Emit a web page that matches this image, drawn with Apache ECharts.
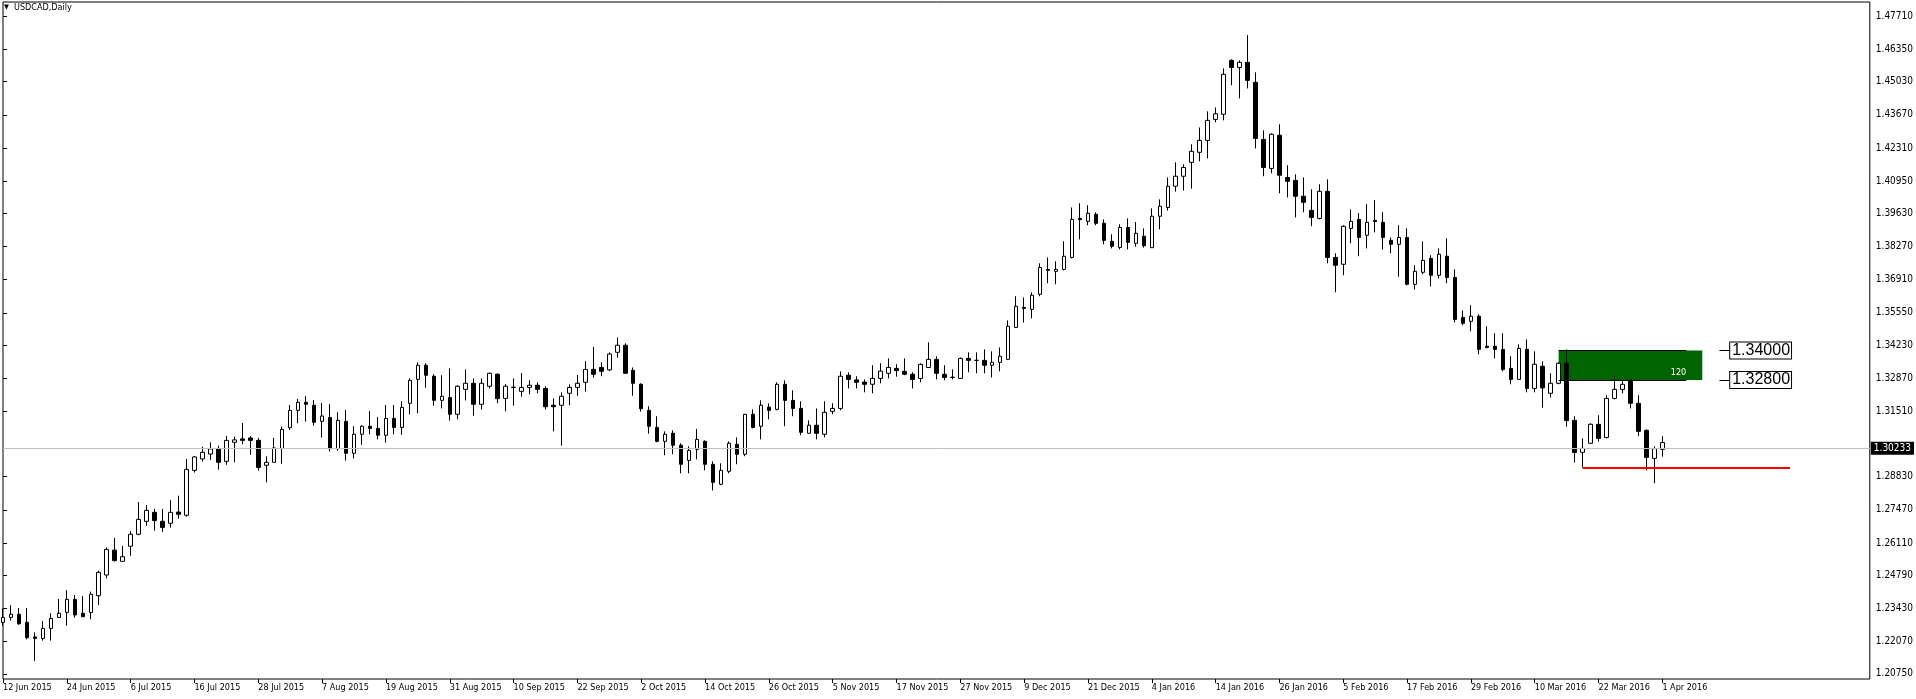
<!DOCTYPE html>
<html>
<head>
<meta charset="utf-8">
<script src="https://cdn.jsdelivr.net/npm/echarts@6/dist/echarts.min.js"></script>
<style>
  html, body { margin: 0; padding: 0; background: #fff; }
  #chart { width: 1916px; height: 699px; }
</style>
</head>
<body>
<div id="chart"></div>
<script>
  // chart text
  const symbolName = 'USDCAD,Daily'
  const dateLabels = ['12 Jun 2015', '24 Jun 2015', '6 Jul 2015', '16 Jul 2015', '28 Jul 2015', '7 Aug 2015',
    '19 Aug 2015', '31 Aug 2015', '10 Sep 2015', '22 Sep 2015', '2 Oct 2015', '14 Oct 2015', '26 Oct 2015',
    '5 Nov 2015', '17 Nov 2015', '27 Nov 2015', '9 Dec 2015', '21 Dec 2015', '4 Jan 2016', '14 Jan 2016',
    '26 Jan 2016', '5 Feb 2016', '17 Feb 2016', '29 Feb 2016', '10 Mar 2016', '22 Mar 2016', '1 Apr 2016']
  const labelStep = 8     // one date label every 8 bars
  const slotCount = 235   // bars + empty space on the right (chart shift)
  const yTicks = [1.47710, 1.46350, 1.45030, 1.43670, 1.42310, 1.40950, 1.39630, 1.38270, 1.36910, 1.35550,
    1.34230, 1.32870, 1.31510, 1.28830, 1.27470, 1.26110, 1.24790, 1.23430, 1.22070, 1.20750]

  // daily bars, 12 Jun 2015 .. 1 Apr 2016
  const opens = [
    1.2286, 1.2306, 1.2319, 1.2286, 1.2226, 1.2220, 1.2261, 1.2306, 1.2327, 1.2380,
    1.2323, 1.2326, 1.2395, 1.2480, 1.2582, 1.2536, 1.2598, 1.2647, 1.2700, 1.2737,
    1.2700, 1.2692, 1.2738, 1.2725, 1.2909, 1.2956, 1.2976, 1.2997, 1.2946, 1.3024,
    1.3038, 1.3042, 1.3032, 1.2930, 1.2942, 1.2999, 1.3084, 1.3155, 1.3188, 1.3176,
    1.3110, 1.3126, 1.2998, 1.3110, 1.2979, 1.3057, 1.3090, 1.3081, 1.3053, 1.3122,
    1.3085, 1.3184, 1.3282, 1.3340, 1.3295, 1.3196, 1.3208, 1.3139, 1.3241, 1.3266,
    1.3180, 1.3254, 1.3303, 1.3204, 1.3249, 1.3233, 1.3249, 1.3258, 1.3245, 1.3176,
    1.3176, 1.3225, 1.3249, 1.3270, 1.3323, 1.3331, 1.3321, 1.3393, 1.3422, 1.3319,
    1.3262, 1.3155, 1.3085, 1.3028, 1.3061, 1.3012, 1.2950, 1.2995, 1.3028, 1.2934,
    1.2852, 1.2905, 1.3016, 1.2975, 1.3139, 1.3090, 1.3168, 1.3159, 1.3262, 1.3196,
    1.3163, 1.3061, 1.3094, 1.3057, 1.3151, 1.3163, 1.3299, 1.3280, 1.3271, 1.3262,
    1.3286, 1.3307, 1.3327, 1.3315, 1.3303, 1.3286, 1.3331, 1.3364, 1.3303, 1.3290,
    1.3286, 1.3368, 1.3360, 1.3360, 1.3340, 1.3352, 1.3364, 1.3495, 1.3577, 1.3569,
    1.3631, 1.3733, 1.3725, 1.3733, 1.3782, 1.3942, 1.3930, 1.3959, 1.3922, 1.3848,
    1.3823, 1.3905, 1.3840, 1.3869, 1.3822, 1.3951, 1.3987, 1.4074, 1.4115, 1.4172,
    1.4213, 1.4262, 1.4348, 1.4369, 1.4590, 1.4561, 1.4582, 1.4500, 1.4266, 1.4147,
    1.4283, 1.4110, 1.4098, 1.4033, 1.3975, 1.3942, 1.4053, 1.3782, 1.3754, 1.3901,
    1.3938, 1.3873, 1.3934, 1.3926, 1.3852, 1.3836, 1.3864, 1.3672, 1.3721, 1.3778,
    1.3709, 1.3787, 1.3700, 1.3536, 1.3520, 1.3541, 1.3418, 1.3418, 1.3405, 1.3327,
    1.3282, 1.3405, 1.3245, 1.3336, 1.3225, 1.3266, 1.3348, 1.3114, 1.2983, 1.3020,
    1.3098, 1.3044, 1.3204, 1.3241, 1.3278, 1.3184, 1.3073, 1.2958, 1.2995
  ]
  const highs = [
    1.2343, 1.2356, 1.2345, 1.2345, 1.2245, 1.2291, 1.2323, 1.2382, 1.2418, 1.2398,
    1.2394, 1.2412, 1.2498, 1.2593, 1.2632, 1.2599, 1.2660, 1.2779, 1.2767, 1.2751,
    1.2751, 1.2787, 1.2805, 1.2956, 1.2968, 1.3006, 1.3024, 1.3010, 1.3050, 1.3047,
    1.3103, 1.3050, 1.3042, 1.2967, 1.3042, 1.3089, 1.3177, 1.3202, 1.3214, 1.3197,
    1.3185, 1.3181, 1.3147, 1.3157, 1.3090, 1.3094, 1.3152, 1.3128, 1.3177, 1.3177,
    1.3193, 1.3286, 1.3352, 1.3348, 1.3303, 1.3299, 1.3327, 1.3258, 1.3323, 1.3286,
    1.3286, 1.3310, 1.3307, 1.3263, 1.3286, 1.3308, 1.3278, 1.3270, 1.3254, 1.3204,
    1.3229, 1.3262, 1.3300, 1.3357, 1.3415, 1.3352, 1.3393, 1.3454, 1.3430, 1.3331,
    1.3266, 1.3172, 1.3131, 1.3069, 1.3073, 1.3020, 1.3008, 1.3079, 1.3032, 1.2946,
    1.2938, 1.3028, 1.3044, 1.3140, 1.3159, 1.3196, 1.3184, 1.3270, 1.3278, 1.3237,
    1.3192, 1.3114, 1.3163, 1.3192, 1.3184, 1.3315, 1.3311, 1.3295, 1.3282, 1.3340,
    1.3348, 1.3368, 1.3344, 1.3368, 1.3311, 1.3348, 1.3434, 1.3377, 1.3340, 1.3323,
    1.3372, 1.3393, 1.3393, 1.3405, 1.3397, 1.3413, 1.3524, 1.3623, 1.3618, 1.3639,
    1.3758, 1.3782, 1.3766, 1.3848, 1.3987, 1.4004, 1.3996, 1.3967, 1.3938, 1.3877,
    1.3918, 1.3942, 1.3927, 1.3901, 1.3983, 1.4020, 1.4110, 1.4172, 1.4164, 1.4246,
    1.4315, 1.4381, 1.4397, 1.4557, 1.4594, 1.4590, 1.4694, 1.4541, 1.4303, 1.4291,
    1.4328, 1.4160, 1.4123, 1.4110, 1.4061, 1.4082, 1.4102, 1.3799, 1.3914, 1.3979,
    1.3964, 1.4001, 1.4017, 1.3968, 1.3864, 1.3914, 1.3901, 1.3750, 1.3848, 1.3791,
    1.3819, 1.3860, 1.3733, 1.3565, 1.3586, 1.3549, 1.3500, 1.3471, 1.3471, 1.3377,
    1.3426, 1.3446, 1.3397, 1.3356, 1.3307, 1.3352, 1.3405, 1.3131, 1.3040, 1.3102,
    1.3135, 1.3217, 1.3295, 1.3282, 1.3282, 1.3217, 1.3077, 1.3008, 1.3049
  ]
  const lows = [
    1.2272, 1.2293, 1.2276, 1.2216, 1.2128, 1.2211, 1.2211, 1.2305, 1.2272, 1.2305,
    1.2308, 1.2298, 1.2357, 1.2466, 1.2535, 1.2536, 1.2559, 1.2643, 1.2682, 1.2662,
    1.2656, 1.2674, 1.2711, 1.2719, 1.2900, 1.2945, 1.2952, 1.2912, 1.2932, 1.2942,
    1.3016, 1.2973, 1.2908, 1.2860, 1.2942, 1.2936, 1.3075, 1.3102, 1.3109, 1.3092,
    1.3043, 1.2986, 1.2990, 1.2949, 1.2958, 1.3014, 1.3057, 1.3036, 1.3023, 1.3057,
    1.3055, 1.3139, 1.3143, 1.3248, 1.3174, 1.3163, 1.3113, 1.3118, 1.3196, 1.3133,
    1.3159, 1.3245, 1.3184, 1.3151, 1.3174, 1.3211, 1.3221, 1.3225, 1.3159, 1.3069,
    1.3010, 1.3176, 1.3215, 1.3232, 1.3289, 1.3295, 1.3316, 1.3371, 1.3307, 1.3215,
    1.3150, 1.3059, 1.3024, 1.2971, 1.2975, 1.2897, 1.2897, 1.2954, 1.2909, 1.2827,
    1.2848, 1.2897, 1.2934, 1.2967, 1.3081, 1.3036, 1.3118, 1.3155, 1.3090, 1.3131,
    1.3053, 1.3060, 1.3036, 1.3044, 1.3139, 1.3155, 1.3245, 1.3245, 1.3229, 1.3225,
    1.3266, 1.3286, 1.3293, 1.3299, 1.3245, 1.3270, 1.3330, 1.3282, 1.3278, 1.3282,
    1.3285, 1.3311, 1.3307, 1.3307, 1.3290, 1.3315, 1.3363, 1.3494, 1.3515, 1.3532,
    1.3623, 1.3676, 1.3672, 1.3729, 1.3778, 1.3856, 1.3914, 1.3914, 1.3836, 1.3819,
    1.3815, 1.3815, 1.3826, 1.3822, 1.3821, 1.3897, 1.3974, 1.4052, 1.4056, 1.4064,
    1.4176, 1.4188, 1.4336, 1.4344, 1.4488, 1.4434, 1.4475, 1.4229, 1.4115, 1.4127,
    1.4045, 1.4028, 1.3946, 1.3967, 1.3910, 1.3938, 1.3758, 1.3639, 1.3709, 1.3840,
    1.3787, 1.3819, 1.3885, 1.3815, 1.3799, 1.3703, 1.3668, 1.3651, 1.3713, 1.3663,
    1.3696, 1.3676, 1.3516, 1.3504, 1.3479, 1.3385, 1.3409, 1.3368, 1.3315, 1.3262,
    1.3281, 1.3229, 1.3229, 1.3166, 1.3208, 1.3262, 1.3088, 1.2941, 1.2921, 1.3019,
    1.3027, 1.3040, 1.3200, 1.3225, 1.3163, 1.3049, 1.2909, 1.2856, 1.2965
  ]
  const closes = [
    1.2306, 1.2319, 1.2280, 1.2223, 1.2220, 1.2261, 1.2302, 1.2323, 1.2380, 1.2316,
    1.2309, 1.2401, 1.2491, 1.2585, 1.2539, 1.2555, 1.2647, 1.2708, 1.2745, 1.2703,
    1.2675, 1.2737, 1.2729, 1.2913, 1.2964, 1.2983, 1.2997, 1.2942, 1.3032, 1.3034,
    1.3032, 1.3032, 1.2921, 1.2942, 1.3001, 1.3077, 1.3155, 1.3188, 1.3180, 1.3106,
    1.3132, 1.2998, 1.3114, 1.2979, 1.3057, 1.3090, 1.3081, 1.3053, 1.3122, 1.3085,
    1.3167, 1.3278, 1.3340, 1.3299, 1.3196, 1.3213, 1.3139, 1.3254, 1.3266, 1.3180,
    1.3266, 1.3307, 1.3203, 1.3254, 1.3250, 1.3249, 1.3258, 1.3241, 1.3170, 1.3170,
    1.3213, 1.3249, 1.3266, 1.3323, 1.3303, 1.3315, 1.3386, 1.3422, 1.3307, 1.3266,
    1.3162, 1.3090, 1.3028, 1.3057, 1.3012, 1.2934, 1.2991, 1.3036, 1.2934, 1.2860,
    1.2909, 1.3020, 1.2975, 1.3139, 1.3085, 1.3176, 1.3155, 1.3262, 1.3196, 1.3163,
    1.3065, 1.3094, 1.3061, 1.3147, 1.3163, 1.3295, 1.3282, 1.3270, 1.3262, 1.3286,
    1.3316, 1.3331, 1.3318, 1.3303, 1.3282, 1.3344, 1.3364, 1.3307, 1.3290, 1.3291,
    1.3368, 1.3360, 1.3360, 1.3340, 1.3352, 1.3377, 1.3500, 1.3582, 1.3573, 1.3627,
    1.3741, 1.3729, 1.3733, 1.3787, 1.3938, 1.3937, 1.3963, 1.3922, 1.3852, 1.3828,
    1.3905, 1.3844, 1.3881, 1.3830, 1.3951, 1.3992, 1.4074, 1.4115, 1.4151, 1.4217,
    1.4262, 1.4344, 1.4371, 1.4533, 1.4561, 1.4582, 1.4508, 1.4270, 1.4151, 1.4287,
    1.4119, 1.4094, 1.4033, 1.4008, 1.3946, 1.4053, 1.3782, 1.3750, 1.3910, 1.3930,
    1.3864, 1.3926, 1.3929, 1.3864, 1.3836, 1.3864, 1.3672, 1.3725, 1.3770, 1.3709,
    1.3795, 1.3700, 1.3528, 1.3512, 1.3541, 1.3405, 1.3413, 1.3405, 1.3323, 1.3282,
    1.3409, 1.3245, 1.3344, 1.3247, 1.3266, 1.3348, 1.3113, 1.2982, 1.2999, 1.3098,
    1.3040, 1.3204, 1.3241, 1.3262, 1.3184, 1.3069, 1.2962, 1.2998, 1.3023
  ]

  // objects drawn on the chart
  const currentPrice = 1.30233
  const zoneTop = 1.34000
  const zoneBottom = 1.32800
  const zoneText = '120'
  const zoneFrom = 195, zoneLineTo = 211, zoneTo = 213     // bar positions
  const priceTagFrom = 215.15, priceTagTo = 216.5
  const supportPrice = 1.2920
  const supportFrom = 198, supportTo = 224

  const font = "'DejaVu Sans Condensed', 'DejaVu Sans', sans-serif"

  const slots = []
  for (let i = 0; i < slotCount; i++) slots.push(String(i))
  const candles = opens.map((o, i) => [o, closes[i], lows[i], highs[i]])
  const isLabelSlot = (i) => i % labelStep === 0 && i / labelStep < dateLabels.length

  const tag = (price) => ({
    show: true,
    position: 'end',
    distance: 0,
    formatter: price.toFixed(5),
    fontFamily: "'Liberation Sans', Arial, sans-serif",
    fontSize: 16,
    lineHeight: 15,
    color: '#000',
    backgroundColor: '#fff',
    borderColor: '#000',
    borderWidth: 1,
    padding: [1, 1, 0, 2]
  })

  const chart = echarts.init(document.getElementById('chart'))
  chart.setOption({
    animation: false,
    backgroundColor: '#fff',
    title: {
      text: '{t|▼}  ' + symbolName,
      left: 1,
      top: 0,
      padding: [3, 3],
      textStyle: {
        fontFamily: font,
        fontSize: 9,
        fontWeight: 'normal',
        color: '#000',
        rich: { t: { fontSize: 7, color: '#000' } }
      }
    },
    grid: {
      left: 3,
      right: 41,
      top: 2,
      bottom: 20,
      show: true,
      borderColor: '#000',
      borderWidth: 1,
      backgroundColor: '#fff'
    },
    xAxis: [{
      type: 'category',
      data: slots,
      boundaryGap: false,
      axisLine: { show: false },
      axisTick: {
        show: true,
        length: 4,
        interval: (i) => isLabelSlot(i),
        lineStyle: { color: '#000' }
      },
      axisLabel: {
        interval: (i) => isLabelSlot(i),
        formatter: (v, i) => isLabelSlot(i) ? dateLabels[i / labelStep] : '',
        align: 'left',
        margin: 4,
        fontFamily: font,
        fontSize: 9,
        color: '#000'
      },
      splitLine: { show: false }
    }, {
      type: 'value',
      min: 0,
      max: slotCount - 1,
      show: false
    }],
    yAxis: {
      type: 'value',
      position: 'right',
      min: 1.20536,
      max: 1.48293,
      axisLine: { show: false },
      axisTick: {
        show: true,
        length: 4,
        customValues: yTicks,
        lineStyle: { color: '#000' }
      },
      axisLabel: {
        customValues: yTicks,
        formatter: (v) => v.toFixed(5),
        margin: 6,
        fontFamily: font,
        fontSize: 10,
        color: '#000'
      },
      splitLine: { show: false }
    },
    series: [{
      name: symbolName,
      type: 'candlestick',
      data: candles,
      barWidth: 4,
      silent: true,
      itemStyle: {
        color: '#fff',
        color0: '#000',
        borderColor: '#000',
        borderColor0: '#000',
        borderWidth: 1
      }
    }, {
      name: 'objects',
      type: 'line',
      xAxisIndex: 1,
      data: [[zoneFrom, zoneTop]],
      symbol: 'none',
      silent: true,
      lineStyle: { width: 0 },
      markArea: {
        silent: true,
        itemStyle: { color: '#006400', opacity: 1 },
        label: {
          show: true,
          position: 'insideRight',
          distance: 0,
          offset: [-16, 7],
          formatter: zoneText,
          fontFamily: font,
          fontSize: 9,
          color: '#fff'
        },
        data: [[{ coord: [zoneFrom, zoneTop] }, { coord: [zoneTo, zoneBottom] }]]
      },
      markLine: {
        silent: true,
        symbol: ['none', 'none'],
        label: { show: false },
        lineStyle: { type: 'solid', color: '#000', width: 1 },
        data: [
          [{ coord: [zoneFrom, zoneTop] }, { coord: [zoneLineTo, zoneTop] }],
          [{ coord: [zoneFrom, zoneBottom] }, { coord: [zoneLineTo, zoneBottom] }],
          [{ coord: [priceTagFrom, zoneTop], label: tag(zoneTop) }, { coord: [priceTagTo, zoneTop] }],
          [{ coord: [priceTagFrom, zoneBottom], label: tag(zoneBottom) }, { coord: [priceTagTo, zoneBottom] }],
          [{ coord: [supportFrom, supportPrice], lineStyle: { color: '#ff0000', width: 2 } },
            { coord: [supportTo, supportPrice] }],
          {
            yAxis: currentPrice,
            lineStyle: { color: '#c0c0c0', width: 1 },
            label: {
              show: true,
              position: 'end',
              distance: 1,
              formatter: currentPrice.toFixed(5),
              fontFamily: font,
              fontSize: 10,
              color: '#fff',
              backgroundColor: '#000',
              padding: [2, 3, 1, 3]
            }
          }
        ]
      }
    }]
  })
</script>
</body>
</html>
